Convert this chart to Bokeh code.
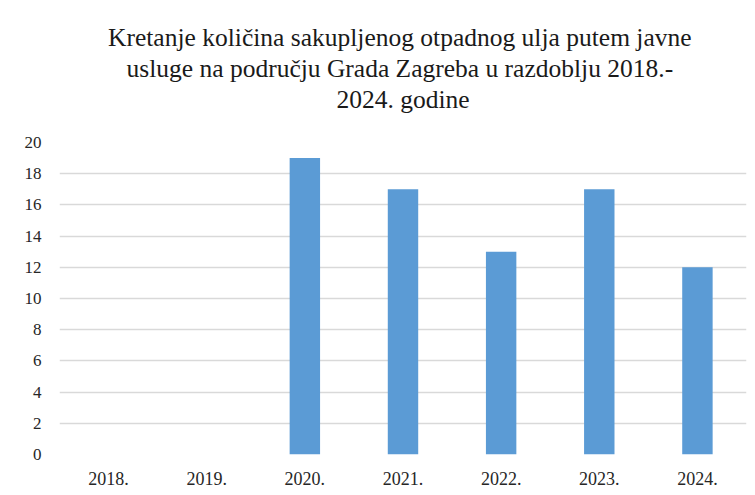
from bokeh.plotting import figure
from bokeh.models import Title, FactorRange, Range1d, FixedTicker, ColumnDataSource
from bokeh.embed import file_html
from bokeh.resources import INLINE

years = ["2018.", "2019.", "2020.", "2021.", "2022.", "2023.", "2024."]
values = [0, 0, 19, 17, 13, 17, 12]
y_ticks = [0, 2, 4, 6, 8, 10, 12, 14, 16, 18, 20]
title_lines = [
    "Kretanje količina  sakupljenog otpadnog ulja putem javne",
    "usluge na području Grada Zagreba  u razdoblju 2018.-",
    "2024. godine",
]

FONT = "Liberation Serif"

src = ColumnDataSource(dict(x=years, top=values))

p = figure(
    x_range=FactorRange(*years, range_padding=0),
    y_range=Range1d(0, 20),
    width=747, height=487,
    output_backend="svg", toolbar_location=None,
    min_border_left=59, min_border_right=1, min_border_bottom=31, min_border_top=142,
)
p.title = None

# spacer between the title block and the plot area
p.add_layout(Title(text=" ", text_font=FONT, text_font_size="25px", standoff=0), "above")
for line in reversed(title_lines):
    p.add_layout(Title(text=line, align="center", text_font=FONT, text_font_size="25.5px",
                       text_font_style="normal", text_color="#1a1a1a",
                       standoff=0), "above")

p.vbar(x="x", top="top", width=0.31, source=src, fill_color="#5B9BD5",
       line_color=None)

p.outline_line_color = None
p.background_fill_color = "white"
p.border_fill_color = "white"

p.xgrid.grid_line_color = None
p.ygrid.grid_line_color = "#d9d9d9"
p.ygrid.grid_line_width = 1.5
p.yaxis.ticker = FixedTicker(ticks=y_ticks)

for ax in (p.xaxis[0], p.yaxis[0]):
    ax.axis_line_color = None
    ax.major_tick_line_color = None
    ax.minor_tick_line_color = None
    ax.major_label_text_font = FONT
    ax.major_label_text_color = "#262626"

p.yaxis.major_label_text_font_size = "17px"
p.xaxis.major_label_text_font_size = "18px"
p.yaxis.major_label_standoff = 12
p.xaxis.major_label_standoff = 11

open("out.html", "w").write(file_html(p, INLINE))
